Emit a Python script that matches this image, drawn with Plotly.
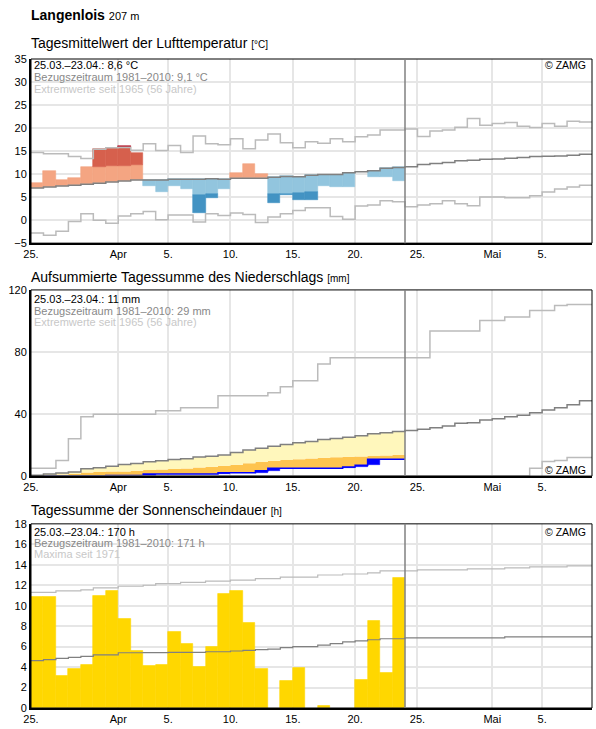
import numpy as np
import plotly.graph_objects as go

# ---------------- data ----------------
tick_days = [0, 7, 11, 16, 21, 26, 31, 37, 41]
tick_labels = ["25.", "Apr", "5.", "10.", "15.", "20.", "25.", "Mai", "5."]
N_DAYS = 45   # 25.03. .. 08.05.
N_OBS = 30    # 25.03. .. 23.04.

# Temperature (daily mean, deg C)
temp_actual = [8.1, 10.7, 8.75, 9.2, 11.5, 15.35, 15.65, 16.2, 14.5, 7.5,
               6.05, 7.5, 6.7, 1.6, 4.8, 6.8, 10.2, 12.2, 10.0, 3.7,
               5.55, 4.35, 4.35, 7.5, 7.1, 7.3, 10.5, 9.45, 9.45, 8.6]
temp_sd = [3.6, 3.6, 3.6, 3.7, 3.8, 3.5, 3.4, 3.2, 3.3, 3.4,
           3.4, 3.4, 3.4, 3.35, 3.4, 3.5, 3.5, 3.5, 3.5, 3.55,
           3.75, 3.5, 3.55, 3.5, 3.5, 3.5, 3.5, 3.5, 3.5, 3.5]
temp_mean = [7.0, 7.2, 7.4, 7.6, 7.8, 8.0, 8.3, 8.5, 8.7, 8.7,
             8.7, 8.9, 8.9, 8.9, 9.0, 8.9, 9.1, 9.1, 9.1, 9.3,
             9.5, 9.45, 9.75, 9.9, 9.9, 10.3, 10.5, 10.75, 11.25, 11.45,
             11.6, 12.1, 12.3, 12.5, 12.9, 13.0, 13.2, 13.3, 13.45, 13.6,
             13.8, 13.9, 13.95, 14.1, 14.3]
temp_max = [14.7, 14.4, 14.4, 13.8, 13.4, 15.4, 15.7, 15.8, 15.2, 16.6,
            15.1, 16.2, 14.7, 18.3, 16.6, 16.4, 17.65, 15.5, 17.4, 18.7,
            16.8, 15.7, 17.0, 16.7, 17.65, 17.0, 18.1, 18.5, 19.6, 19.6,
            19.8, 18.15, 19.35, 19.6, 20.2, 22.1, 20.6, 21.0, 21.2, 20.4,
            20.1, 21.0, 20.4, 21.5, 21.3]
temp_min = [-2.8, -3.3, -2.4, -0.3, 1.4, 0.0, -0.7, 0.9, 1.4, 1.85,
            0.1, 1.1, 1.1, -0.4, 1.4, 1.0, 1.55, 1.2, -0.5, 0.7,
            1.4, 2.1, 2.7, 2.7, 0.8, 0.2, 3.05, 3.3, 4.2, 4.0,
            2.9, 3.3, 3.55, 4.2, 3.55, 3.1, 5.05, 5.05, 4.85, 4.85,
            5.3, 6.1, 6.75, 7.2, 7.6]

# Precipitation (accumulated, mm)
precip_cum = [0.0, 0.0, 0.0, 0.0, 0.0, 0.0, 0.4, 0.4, 0.4, 1.3,
              1.3, 1.3, 1.3, 1.3, 1.3, 2.1, 2.1, 2.1, 3.4, 5.1,
              5.1, 5.1, 5.1, 5.1, 5.1, 5.8, 7.0, 10.9, 10.9, 10.9]
precip_half = [0.3, 0.7, 1.0, 1.3, 2.3, 2.6, 2.9, 3.0, 3.4, 3.9,
               4.2, 4.5, 4.9, 5.6, 6.0, 6.6, 7.3, 8.3, 9.3, 9.9,
               10.4, 10.9, 11.3, 11.8, 12.1, 12.4, 12.6, 12.9, 13.2, 13.7]
precip_mean = [0.5, 1.4, 2.0, 2.6, 4.7, 5.4, 6.3, 7.4, 8.1, 9.3,
               9.9, 10.7, 11.2, 12.3, 12.7, 13.6, 15.2, 16.8, 18.0, 19.3,
               20.3, 21.5, 22.3, 23.6, 24.3, 25.0, 26.0, 27.3, 27.9, 28.7,
               29.3, 30.2, 31.2, 32.3, 34.0, 34.4, 36.2, 37.0, 38.3, 39.2,
               40.9, 42.6, 44.1, 46.0, 48.6]
precip_max = [5.0, 5.0, 10.0, 24.0, 38.3, 39.8, 39.8, 39.8, 39.8, 39.8,
              42.1, 42.1, 44.1, 44.1, 44.1, 51.8, 51.8, 51.8, 51.8, 53.7,
              57.6, 61.4, 61.4, 72.3, 76.2, 76.2, 76.2, 76.2, 76.2, 76.2,
              76.2, 76.2, 93.5, 93.5, 93.5, 93.5, 100.3, 100.3, 102.5, 102.5,
              106.8, 106.8, 110.0, 110.6, 110.6]
precip_min = [0.0] * 40 + [5.1, 9.4, 10.0, 12.0, 12.0]

# Sunshine duration (h)
sun_actual = [10.9, 10.9, 3.1, 3.8, 4.2, 11.0, 11.5, 8.7, 5.6, 4.1,
              4.2, 7.4, 6.25, 4.0, 6.0, 11.2, 11.5, 8.35, 3.8, 0.0,
              2.65, 3.9, 0.0, 0.2, 0.0, 0.0, 2.8, 8.55, 3.4, 12.7]
sun_mean = [4.63, 4.73, 4.86, 4.95, 5.05, 5.2, 5.2, 5.4, 5.4, 5.42,
            5.42, 5.44, 5.44, 5.44, 5.5, 5.5, 5.57, 5.63, 5.7, 5.76,
            5.9, 6.0, 6.0, 6.15, 6.3, 6.47, 6.57, 6.67, 6.77, 6.77,
            6.86, 6.86, 6.86, 6.86, 6.86, 6.86, 6.86, 6.86, 6.96, 6.96,
            6.96, 6.96, 6.96, 6.96, 6.96]
sun_max = [11.3, 11.3, 11.45, 11.45, 11.55, 11.75, 11.75, 11.9, 11.9, 12.0,
           12.15, 12.15, 12.27, 12.27, 12.4, 12.4, 12.5, 12.5, 12.65, 12.65,
           12.8, 12.8, 12.8, 13.0, 13.0, 13.1, 13.1, 13.2, 13.4, 13.4,
           13.4, 13.5, 13.5, 13.5, 13.5, 13.6, 13.6, 13.6, 13.7, 13.7,
           13.8, 13.8, 13.8, 13.9, 13.9]

# ---------------- layout geometry ----------------
W, H = 596, 729
ML, MR, MT, MB = 31, 4, 59, 18
PW = W - ML - MR
PH = H - MT - MB
FONT = "Liberation Sans, Arial, sans-serif"

def py(pix):
    return (H - MB - pix) / PH

def pxp(pix):
    return (pix - ML) / PW

panels = [(59, 244), (291, 478), (526, 711)]

# colours
C_SALMON, C_RED, C_DRED = "#F4A582", "#D6604D", "#B2182B"
C_LBLUE, C_MBLUE = "#92C5DE", "#4393C3"
C_YEL, C_ORA, C_BLUE = "#FFF7BC", "#FEC44F", "#0000FF"
C_SUN = "#FFD700"
C_MEAN, C_EXT = "#808080", "#BBBBBB"
C_GRID = "#E6E6E6"

fig = go.Figure()


def step(vals):
    return list(range(len(vals) + 1)), list(vals) + [vals[-1]]


def add_step(vals, color, width, ax, ay):
    x, y = step(vals)
    fig.add_trace(go.Scatter(x=x, y=y, mode="lines", line=dict(color=color, width=width, shape="hv"),
                             xaxis=ax, yaxis=ay, hoverinfo="skip", showlegend=False))


def add_bars(base, top, color, ax, ay):
    base = np.asarray(base, float)
    top = np.asarray(top, float)
    h = top - base
    xs, ys, bs = [], [], []
    for i in range(len(h)):
        if h[i] > 1e-6:
            xs.append(i + 0.5)
            ys.append(h[i])
            bs.append(base[i])
    if not xs:
        return
    fig.add_trace(go.Bar(x=xs, y=ys, base=bs, width=1.0, marker=dict(color=color, line=dict(color=color, width=0.6)),
                         xaxis=ax, yaxis=ay, hoverinfo="skip", showlegend=False))

# ---------------- panel 1: temperature ----------------
a = np.array(temp_actual)
m = np.array(temp_mean[:N_OBS])
sd = np.array(temp_sd)
mx = np.array(temp_max[:N_OBS])
mn = np.array(temp_min[:N_OBS])
hi, lo = m + sd, m - sd

add_bars(m, np.where(a > m, np.minimum(a, hi), m), C_SALMON, "x", "y")
add_bars(hi, np.where(a > hi, np.minimum(a, mx), hi), C_RED, "x", "y")
add_bars(mx, np.where(a > mx, a, mx), C_DRED, "x", "y")
add_bars(np.where(a < m, np.maximum(a, lo), m), m, C_LBLUE, "x", "y")
add_bars(np.where(a < lo, np.maximum(a, mn), lo), lo, C_MBLUE, "x", "y")

add_step(temp_max, C_EXT, 1.5, "x", "y")
add_step(temp_min, C_EXT, 1.5, "x", "y")
add_step(temp_mean, C_MEAN, 1.5, "x", "y")

# ---------------- panel 2: precipitation ----------------
xs, ycum = step(precip_cum)
_, yhalf = step(precip_half)
_, ymean30 = step(precip_mean[:N_OBS])
fig.add_trace(go.Scatter(x=xs, y=ycum, mode="lines", line=dict(width=0, shape="hv"),
                         xaxis="x2", yaxis="y2", hoverinfo="skip", showlegend=False))
fig.add_trace(go.Scatter(x=xs, y=yhalf, mode="lines", line=dict(width=0, shape="hv"), fill="tonexty",
                         fillcolor=C_ORA, xaxis="x2", yaxis="y2", hoverinfo="skip", showlegend=False))
fig.add_trace(go.Scatter(x=xs, y=ymean30, mode="lines", line=dict(width=0, shape="hv"), fill="tonexty",
                         fillcolor=C_YEL, xaxis="x2", yaxis="y2", hoverinfo="skip", showlegend=False))
cum = np.array(precip_cum)
prev = np.concatenate([[0.0], cum[:-1]])
add_bars(prev, cum, C_BLUE, "x2", "y2")
add_step(precip_cum, C_BLUE, 1.5, "x2", "y2")
add_step(precip_max, C_EXT, 1.5, "x2", "y2")
add_step(precip_min, C_EXT, 1.5, "x2", "y2")
add_step(precip_mean, C_MEAN, 1.5, "x2", "y2")

# ---------------- panel 3: sunshine ----------------
add_bars(np.zeros(N_OBS), sun_actual, C_SUN, "x3", "y3")
add_step(sun_max, C_EXT, 1.2, "x3", "y3")
add_step(sun_mean, C_MEAN, 1.2, "x3", "y3")

# ---------------- axes ----------------
tickfont = dict(family=FONT, size=11, color="#000")
yranges = [(-5, 35, list(range(-5, 36, 5))), (0, 120, [0, 40, 80, 120]), (0, 18, list(range(0, 19, 2)))]
layout_axes = {}
shapes = []
for k, ((top, bot), (y0, y1, yt)) in enumerate(zip(panels, yranges)):
    sfx = "" if k == 0 else str(k + 1)
    layout_axes["xaxis" + sfx] = dict(domain=[0, 1], anchor="y" + sfx, range=[0, N_DAYS],
                                      tickmode="array", tickvals=tick_days, ticktext=tick_labels,
                                      showgrid=True, gridcolor=C_GRID, gridwidth=1.5, zeroline=False,
                                      showline=True, linecolor="#000", linewidth=2, ticks="",
                                      tickfont=tickfont, fixedrange=True)
    layout_axes["yaxis" + sfx] = dict(domain=[py(bot), py(top)], anchor="x" + sfx, range=[y0, y1],
                                      tickmode="array", tickvals=yt,
                                      showgrid=True, gridcolor=C_GRID, gridwidth=1.5, zeroline=False,
                                      showline=True, linecolor="#000", linewidth=2, ticks="",
                                      tickfont=tickfont, fixedrange=True)
    shapes.append(dict(type="rect", xref="x%s domain" % sfx, yref="y%s domain" % sfx,
                       x0=0, x1=1, y0=0, y1=1, line=dict(color="#000", width=1)))
    shapes.append(dict(type="line", xref="x" + sfx, yref="y%s domain" % sfx,
                       x0=N_OBS, x1=N_OBS, y0=0, y1=1, line=dict(color=C_MEAN, width=1.5)))

# ---------------- texts ----------------
anns = []


def ann(text, xpix, ypix, size, color="#000", xanchor="left"):
    anns.append(dict(text=text, x=pxp(xpix), y=py(ypix), xref="paper", yref="paper",
                     xanchor=xanchor, yanchor="middle", showarrow=False,
                     font=dict(family=FONT, size=size, color=color)))

ann("<b>Langenlois</b> <span style='font-size:11px'>207 m</span>", 29, 15, 14)
titles = [("Tagesmittelwert der Lufttemperatur", "[°C]", 43),
          ("Aufsummierte Tagessumme des Niederschlags", "[mm]", 278),
          ("Tagessumme der Sonnenscheindauer", "[h]", 512)]
for t, u, yy in titles:
    ann("%s <span style='font-size:10px'>%s</span>" % (t, u), 29, yy, 14)

info = [
    (["25.03.–23.04.: 8,6 °C", "Bezugszeitraum 1981–2010: 9,1 °C", "Extremwerte seit 1965 (56 Jahre)"],
     [65, 77, 89]),
    (["25.03.–23.04.: 11 mm", "Bezugszeitraum 1981–2010: 29 mm", "Extremwerte seit 1965 (56 Jahre)"],
     [300.5, 311.7, 323]),
    (["25.03.–23.04.: 170 h", "Bezugszeitraum 1981–2010: 171 h", "Maxima seit 1971"],
     [534.3, 545.3, 556.3]),
]
for lines, ys in info:
    for txt, col, yy in zip(lines, ["#000", "#888888", "#C8C8C8"], ys):
        ann(txt, 32, yy, 11, col)

for yy in [65.5, 472, 534]:
    ann("© ZAMG", 588, yy, 10.5, "#000", xanchor="right")

fig.update_layout(width=W, height=H, margin=dict(l=ML, r=MR, t=MT, b=MB),
                  paper_bgcolor="white", plot_bgcolor="white", barmode="overlay", bargap=0,
                  showlegend=False, annotations=anns, shapes=shapes, font=dict(family=FONT),
                  **layout_axes)

fig.write_html("out.html")
